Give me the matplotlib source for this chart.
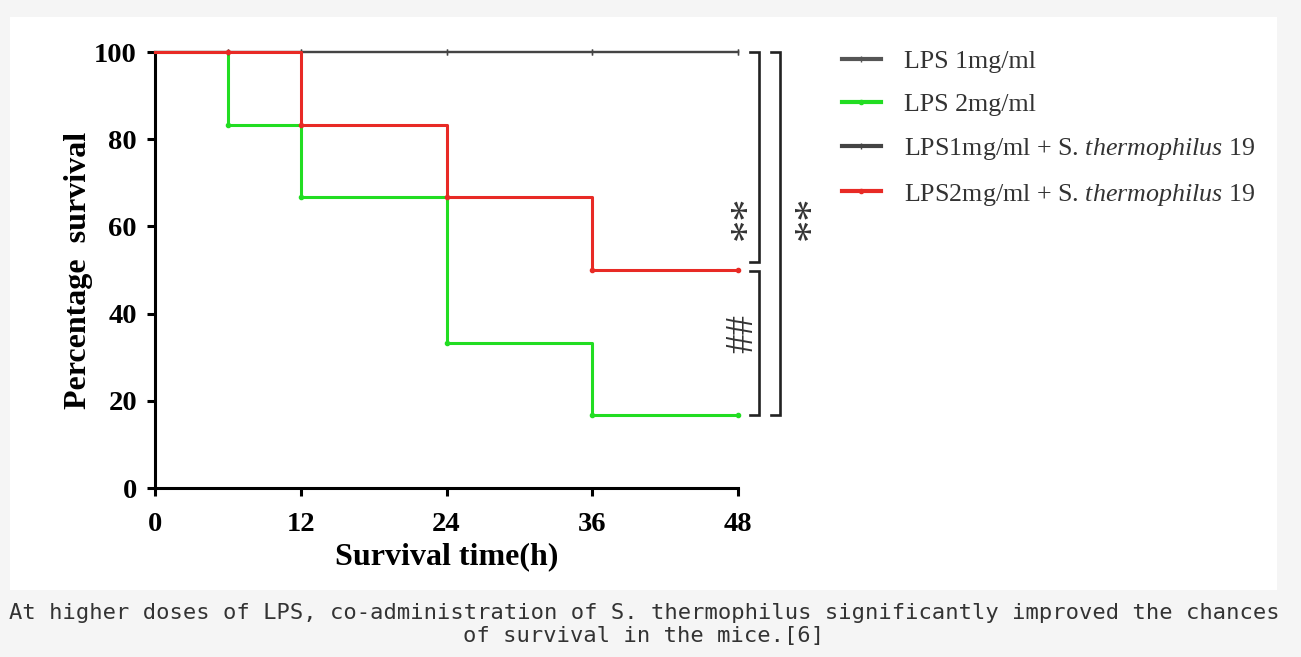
import numpy as np
import matplotlib
matplotlib.use("Agg")
import matplotlib.pyplot as plt
from matplotlib.patches import Rectangle

plt.rcParams['mathtext.fontset'] = 'custom'
plt.rcParams['mathtext.rm'] = 'Liberation Serif'
plt.rcParams['mathtext.it'] = 'Liberation Serif:italic'

# survival data (hours, percent surviving)
times = [0, 6, 12, 24, 36, 48]
lps1 = [100, 100, 100, 100, 100, 100]
lps2 = [100, 83.33, 66.67, 33.33, 16.67, 16.67]
lps1_st = [100, 100, 100, 100, 100, 100]
lps2_st = [100, 100, 83.33, 66.67, 50, 50]

labels = ["LPS 1mg/ml",
          "LPS 2mg/ml",
          r"LPS1mg/ml + S. $\mathit{thermophilus}$ 19",
          r"LPS2mg/ml + S. $\mathit{thermophilus}$ 19"]
colors = ["#555555", "#22dd22", "#444444", "#e82a25"]

xticks = [0, 12, 24, 36, 48]
yticks = [0, 20, 40, 60, 80, 100]
caption = ["At higher doses of LPS, co-administration of S. thermophilus significantly improved the chances",
           "of survival in the mice.[6]"]

fig = plt.figure(figsize=(13.01, 6.57), dpi=100)
fig.patch.set_facecolor("#f5f5f5")
fig.add_artist(Rectangle((10/1301, 67/657), 1267/1301, 573/657, transform=fig.transFigure,
                         facecolor="white", edgecolor="none", zorder=0))

ax = fig.add_axes([155/1301, 169/657, 583/1301, 436/657])
ax.set_facecolor("none")

series = [lps1, lps2, lps1_st, lps2_st]
order = [0, 2, 1, 3]
widths = [1.6, 2.2, 1.6, 2.2]
handles = [None]*4
for i in order:
    h, = ax.step(times, series[i], where="post", color=colors[i], lw=widths[i],
                 clip_on=False, zorder=3+i, marker="|" if i in (0, 2) else "o",
                 ms=5 if i in (0, 2) else 3, markevery=slice(1, None))
    handles[i] = h

ax.set_xlim(0, 48)
ax.set_ylim(0, 100)
ax.set_xticks(xticks)
ax.set_yticks(yticks)
for s in ["top", "right"]:
    ax.spines[s].set_visible(False)
for s in ["left", "bottom"]:
    ax.spines[s].set_linewidth(2.2)
ax.tick_params(width=2.2, length=6, labelsize=20.5, pad=7)
ax.tick_params(axis="x", pad=11)
for lab in ax.get_xticklabels() + ax.get_yticklabels():
    lab.set_fontfamily("Liberation Serif")
    lab.set_fontweight("bold")

ax.set_xlabel("Survival time(h)", fontfamily="Liberation Serif", fontweight="bold",
              fontsize=23, labelpad=4)
ax.set_ylabel("Percentage  survival", fontfamily="Liberation Serif", fontweight="bold",
              fontsize=23, labelpad=1)

# significance brackets
def bracket(x, y0, y1, dx=0.75):
    ax.plot([x - dx, x, x, x - dx], [y0, y0, y1, y1], color="#222222", lw=1.9,
            clip_on=False, solid_joinstyle="miter")

top = lps1[-1]
mid = lps2_st[-1]
low = lps2[-1]
bracket(49.75, top, mid + 1.8)
bracket(49.75, mid - 0.2, low)
bracket(51.45, top, low)

star_y = (top + mid) / 2 - 13
ax.text(48.8, star_y, "**", rotation=90, ha="center", va="center",
        fontsize=32, fontfamily="Liberation Serif", color="#333333", clip_on=False)
ax.text(54.1, star_y, "**", rotation=90, ha="center", va="center",
        fontsize=32, fontfamily="Liberation Serif", color="#333333", clip_on=False)
ax.text(48.4, (mid + low) / 2 + 2, "##", rotation=90, ha="center", va="center",
        fontsize=28, fontfamily="Liberation Serif", color="#333333", clip_on=False)

leg = fig.legend(handles, labels, loc="upper left", bbox_to_anchor=(842/1301, 1 - 50/657),
                 frameon=False, borderpad=0, borderaxespad=0, handlelength=1.5,
                 handletextpad=0.9, labelspacing=0.76,
                 prop={"family": "Liberation Serif", "size": 18.7}, labelcolor="#333333")
for lh in leg.legend_handles:
    lh.set_linewidth(3)

fig.text(644/1301, 1 - 613/657, caption[0], ha="center", va="center", fontsize=15.9,
         fontfamily="DejaVu Sans Mono", color="#333333")
fig.text(644/1301, 1 - 636/657, caption[1], ha="center", va="center", fontsize=15.9,
         fontfamily="DejaVu Sans Mono", color="#333333")

fig.savefig("out.png", dpi=100, facecolor=fig.get_facecolor())
